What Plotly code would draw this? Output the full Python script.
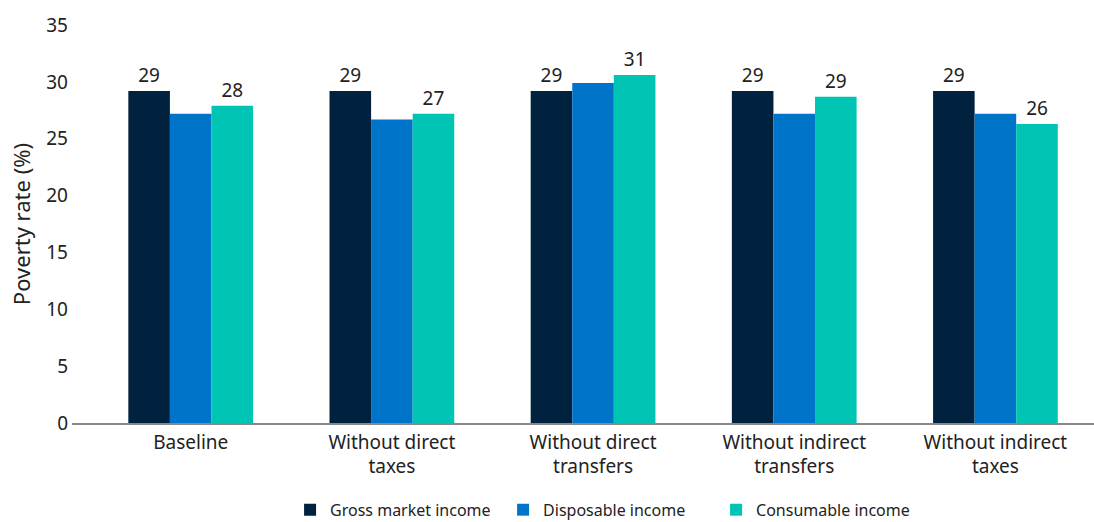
import plotly.graph_objects as go

scenarios = ["Baseline", "Without direct<br>taxes", "Without direct<br>transfers",
             "Without indirect<br>transfers", "Without indirect<br>taxes"]
gross_market = [29.2, 29.2, 29.2, 29.2, 29.2]
disposable = [27.2, 26.7, 29.9, 27.2, 27.2]
consumable = [27.9, 27.2, 30.6, 28.7, 26.3]

FONT = "Noto Sans"
TEXT = "#222222"
LABEL_FONT = dict(size=19, color=TEXT, family=FONT)

fig = go.Figure()
fig.add_bar(name="Gross market income", x=scenarios, y=gross_market,
            marker=dict(color="#00223F", line=dict(width=0)),
            texttemplate="%{y:.0f}", textposition="outside",
            textfont=LABEL_FONT, cliponaxis=False)
fig.add_bar(name="Disposable income", x=scenarios, y=disposable,
            marker=dict(color="#0074C8", line=dict(width=0)))
fig.add_bar(name="Consumable income", x=scenarios, y=consumable,
            marker=dict(color="#00C5B4", line=dict(width=0)),
            texttemplate="%{y:.0f}", textposition="outside",
            textfont=LABEL_FONT, cliponaxis=False)

fig.update_layout(
    width=1094, height=522,
    margin=dict(l=72, r=0, t=25, b=99, autoexpand=False),
    paper_bgcolor="white", plot_bgcolor="white",
    barmode="group", bargap=0.38, bargroupgap=0,
    font=dict(family=FONT, size=16, color=TEXT),
    legend=dict(orientation="h", x=0.526, xanchor="center",
                y=-0.218, yanchor="middle",
                font=dict(size=16, color=TEXT), itemwidth=30, traceorder="normal",
                entrywidthmode="pixels", entrywidth=168),
    showlegend=True,
)
fig.update_xaxes(range=[-0.59, 4.49], showline=True, linecolor="#888888", linewidth=1.5,
                 ticks="", ticklabelstandoff=1, tickfont=dict(size=19, color=TEXT),
                 showgrid=False)
fig.update_yaxes(range=[0, 35], dtick=5, showgrid=False, zeroline=False, showline=False,
                 ticks="", ticklabelstandoff=3, tickfont=dict(size=19, color=TEXT),
                 title=dict(text="Poverty rate (%)", font=dict(size=22, color=TEXT), standoff=9))

fig.write_html("out.html")
